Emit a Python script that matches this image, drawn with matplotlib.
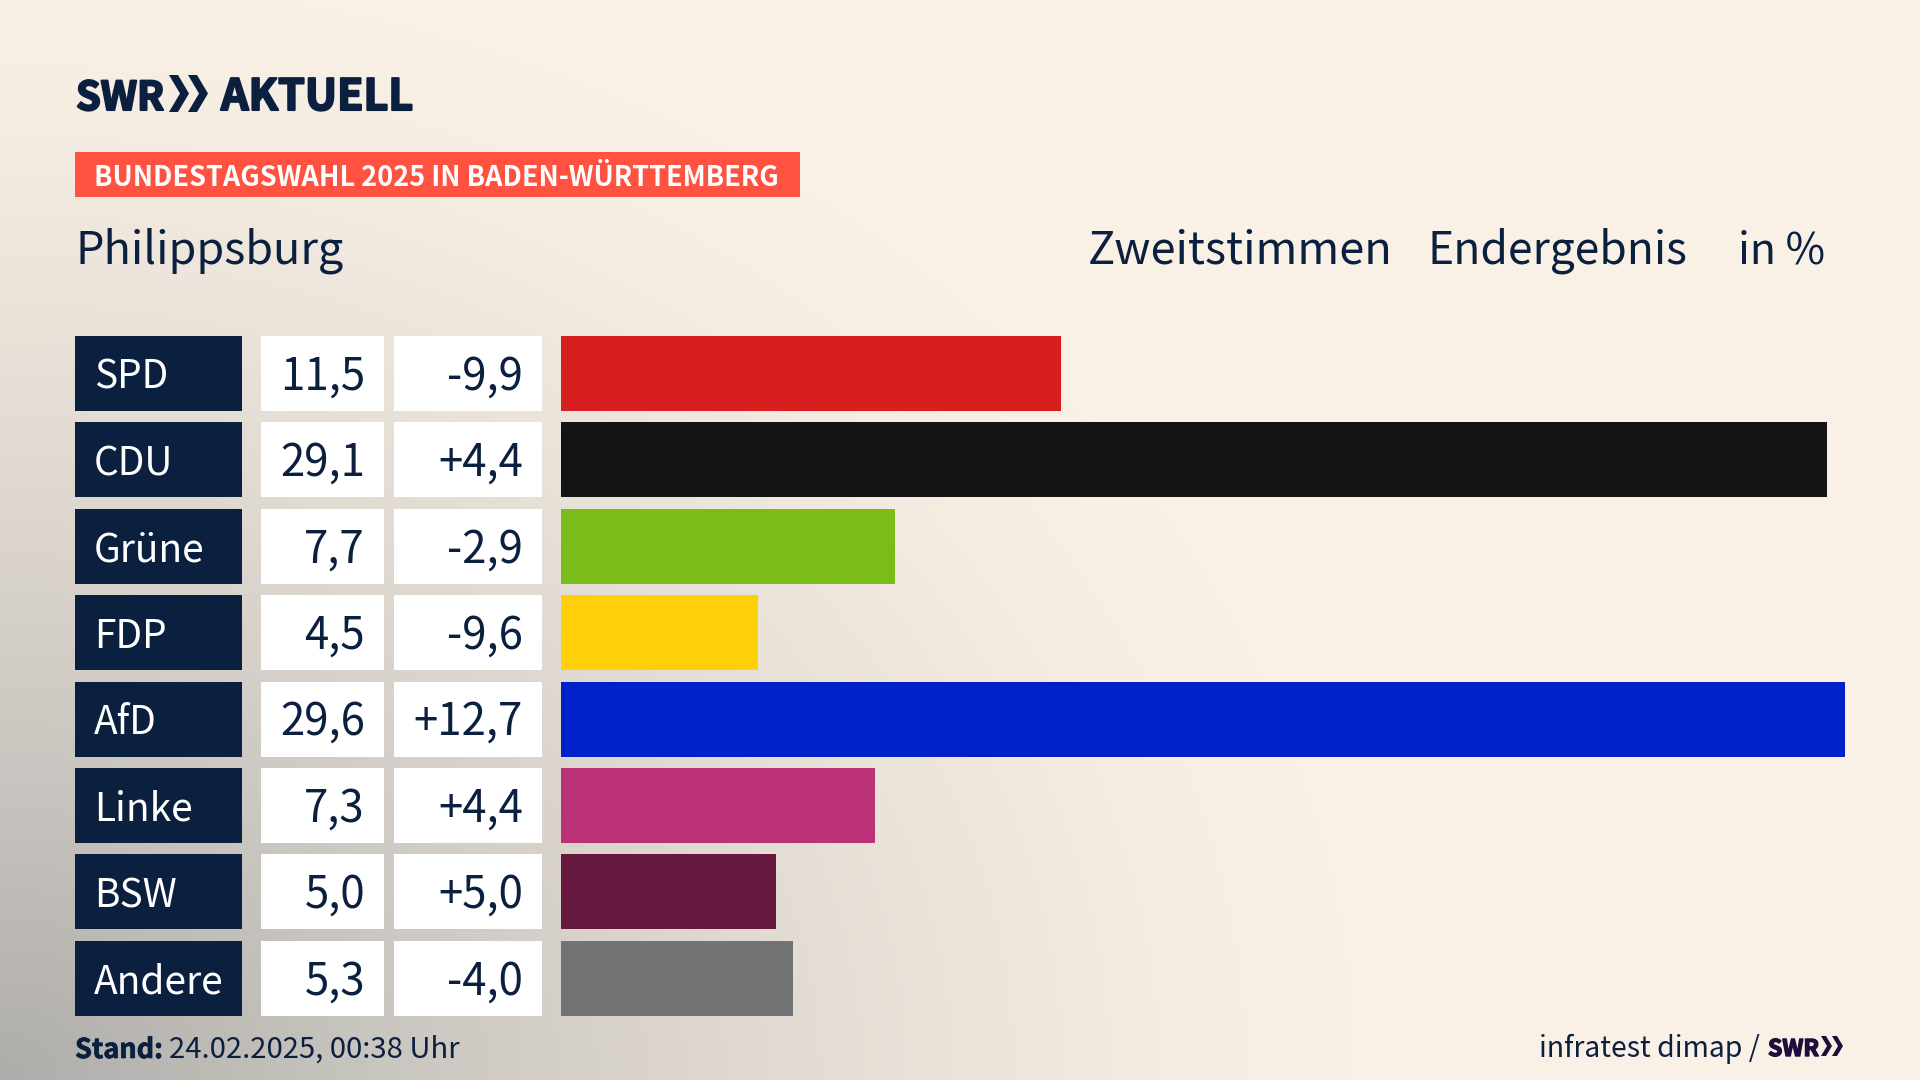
import numpy as np
import matplotlib
matplotlib.use("Agg")
import matplotlib.pyplot as plt
import matplotlib.patheffects as pe
from matplotlib.patches import Rectangle, Polygon

parties = ["SPD", "CDU", "Grüne", "FDP", "AfD", "Linke", "BSW", "Andere"]
share_labels = ["11,5", "29,1", "7,7", "4,5", "29,6", "7,3", "5,0", "5,3"]
change_labels = ["-9,9", "+4,4", "-2,9", "-9,6", "+12,7", "+4,4", "+5,0", "-4,0"]
bar_lengths = [11.52, 29.18, 7.70, 4.54, 29.60, 7.25, 4.96, 5.35]
colors = ["#D81F1F", "#141414", "#7ABD1A", "#FFCF0A", "#0021C8", "#BB3176", "#66183F", "#727375"]

NAVY = "#0B1F3F"
FONT = "Noto Sans CJK SC"
W, H = 1920, 1080
TOP, PITCH, RH = 335.9, 86.4, 75

fig = plt.figure(figsize=(19.2, 10.8), dpi=100)
ax = fig.add_axes([0, 0, 1, 1])
ax.set_xlim(0, W); ax.set_ylim(H, 0); ax.axis("off")

# background
yy, xx = np.mgrid[0:H:270j, 0:W:480j]
d1 = np.hypot(xx / 1350, (H - yy) / 1100)
shade = np.clip(1 - d1, 0, 1) ** 1.3 * 0.58
base = np.array([0xFA, 0xF1, 0xE6]) / 255
dark = np.array([0x78, 0x7C, 0x80]) / 255
img = base[None, None, :] * (1 - shade[..., None]) + dark[None, None, :] * shade[..., None]
ax.imshow(img, extent=[0, W, H, 0], aspect="auto", zorder=0, interpolation="bicubic")

def T(x, y, s, size, color=NAVY, ha="left", weight="normal", family=FONT, stroke=0):
    t = ax.text(x, y, s, fontsize=size, color=color, ha=ha, va="baseline", family=family, weight=weight, zorder=5)
    if stroke:
        t.set_path_effects([pe.withStroke(linewidth=stroke, foreground=color)])
    return t

renderer = fig.canvas.get_renderer()
def fit(t, width):
    w = t.get_window_extent(renderer).width
    t.set_fontsize(t.get_fontsize() * width / w)

def chev(x, y0, y1, depth, thick, gap, c):
    m = (y0 + y1) / 2
    for dx in (0, gap):
        ax.add_patch(Polygon([[x+dx, y0], [x+dx+thick, y0], [x+dx+thick+depth, m], [x+dx+thick, y1],
                              [x+dx, y1], [x+dx+depth, m]], closed=True, fc=c, ec="none", zorder=5))

# logo
fit(T(76, 110, "SWR", 36, weight="bold", stroke=1.5), 88)
chev(169, 75, 112, 11, 9, 19, NAVY)
fit(T(221, 110, "AKTUELL", 36, weight="bold", stroke=1.5), 192)

# tag
ax.add_patch(Rectangle((75, 152), 725, 45, fc="#FF5240", ec="none", zorder=3))
fit(T(94, 186, "BUNDESTAGSWAHL 2025 IN BADEN-WÜRTTEMBERG", 22, color="white", weight="bold"), 683)

# heading
fit(T(75.5, 264, "Philippsburg", 33), 269)
fit(T(1088, 264, "Zweitstimmen", 33), 305)
fit(T(1428, 264, "Endergebnis", 33), 260)
fit(T(1738, 264, "in %", 33), 87)

# rows
for i, (p, s, c) in enumerate(zip(parties, share_labels, change_labels)):
    y = TOP + i * PITCH
    ax.add_patch(Rectangle((75, y), 167, RH, fc=NAVY, ec="none", zorder=3))
    ax.add_patch(Rectangle((261, y), 123, RH, fc="white", ec="none", zorder=3))
    ax.add_patch(Rectangle((394, y), 148, RH, fc="white", ec="none", zorder=3))
    T(94, y + 53, p, 28, color="white")
    T(365, y + 53.5, s, 31.5, ha="right")
    T(523, y + 53.5, c, 31.5, ha="right")

# bars
bx = fig.add_axes([561 / W, 1 - (TOP + 7 * PITCH + RH) / H, (1845 - 561) / W, (7 * PITCH + RH) / H])
bx.patch.set_alpha(0)
bx.axis("off")
bx.barh(range(8), bar_lengths, height=RH / PITCH, color=colors)
bx.set_xlim(0, 29.6)
bx.set_ylim(7 + RH / PITCH / 2, -RH / PITCH / 2)

# footer
fit(T(75, 1058, "Stand:", 21.5, weight="bold", stroke=0.5), 88)
fit(T(169, 1058, "24.02.2025, 00:38 Uhr", 20.6), 289)
fit(T(1539, 1057, "infratest dimap /", 22), 221)
fit(T(1768, 1056, "SWR", 20, color="#1D0F3D", weight="bold", stroke=1), 51)
chev(1821, 1036, 1056, 6, 5, 11, "#1D0F3D")

fig.savefig("out.png", dpi=100)
